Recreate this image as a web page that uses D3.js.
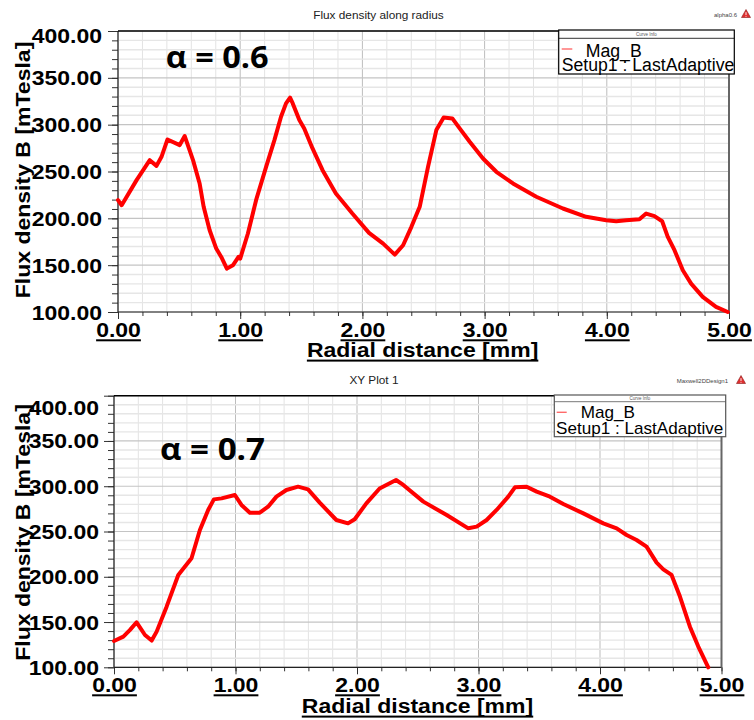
<!DOCTYPE html>
<html><head><meta charset="utf-8">
<script src="https://cdn.jsdelivr.net/npm/d3@7"></script>
<style>body{margin:0;background:#fff}</style>
</head><body>
<svg id="c" width="754" height="720"></svg>
<script>
// ---- data ----
const radius06 = [0, 0.03, 0.152, 0.26, 0.315, 0.356, 0.405, 0.505, 0.546, 0.614, 0.668, 0.701, 0.75, 0.804, 0.845, 0.891, 0.94, 0.986, 1.0, 1.063, 1.13, 1.212, 1.28, 1.334, 1.375, 1.408, 1.43, 1.484, 1.524, 1.592, 1.674, 1.783, 1.918, 2.054, 2.17, 2.265, 2.333, 2.401, 2.469, 2.537, 2.605, 2.665, 2.736, 2.796, 2.878, 2.987, 3.096, 3.232, 3.423, 3.641, 3.831, 3.995, 4.077, 4.158, 4.267, 4.322, 4.39, 4.453, 4.499, 4.554, 4.622, 4.69, 4.785, 4.894, 4.99];
const flux06   = [219.4, 214, 240.8, 262.1, 256, 265.7, 284.2, 278.2, 287.8, 262.1, 237.2, 212.3, 187.3, 167.7, 158.8, 146.3, 149.9, 158.8, 157, 183.8, 219.4, 255, 283.5, 308.4, 322.7, 328.8, 322.7, 304.9, 296, 274.6, 251.4, 226.5, 205.1, 184.5, 173, 161.3, 171.3, 190.9, 212.3, 255, 294.2, 307.7, 306.7, 296, 281.7, 263.9, 249.7, 237.2, 223, 210.5, 201.6, 198, 196.9, 198, 199, 205.1, 202.3, 196.9, 180.2, 166, 144.6, 130.3, 116.1, 105.4, 100];
const radius07 = [0, 0.077, 0.132, 0.186, 0.255, 0.31, 0.351, 0.433, 0.529, 0.638, 0.707, 0.775, 0.822, 0.885, 0.995, 1.049, 1.118, 1.2, 1.268, 1.337, 1.419, 1.515, 1.597, 1.693, 1.83, 1.926, 1.981, 2.077, 2.186, 2.321, 2.381, 2.546, 2.738, 2.916, 2.985, 3.067, 3.149, 3.245, 3.3, 3.396, 3.479, 3.588, 3.698, 3.863, 4.027, 4.137, 4.219, 4.301, 4.383, 4.466, 4.521, 4.589, 4.658, 4.74, 4.809, 4.891];
const flux07   = [129.1, 133.9, 141.3, 149.7, 135.7, 129.5, 139.4, 167, 202, 220.4, 251.7, 273.8, 285.5, 286.6, 290.3, 279.3, 270.8, 270.8, 277.4, 288.5, 295.8, 299.5, 296.6, 281.9, 262.7, 259, 263.5, 281.1, 297.5, 306.9, 301.4, 283, 268.2, 253.5, 255.4, 262.7, 273.8, 288.5, 298.8, 299.5, 294, 288.5, 280.4, 270, 259, 253.5, 246.1, 240.6, 233.3, 215.6, 208.2, 202, 178.1, 144.9, 122.9, 100];
const xTickValues = [0, 1, 2, 3, 4, 5];
const yTickValues = [100, 150, 200, 250, 300, 350, 400];
const plotTitles = ["Flux density along radius", "XY Plot 1"];
const cornerLabels = ["alpha0.6", "Maxwell2DDesign1"];
const alphaLabels = ["α = 0.6", "α = 0.7"];
const legendHeader = "Curve Info";
const legendSeries = "Mag_B";
const legendSetup = "Setup1 : LastAdaptive";
const xAxisTitle = "Radial distance [mm]";
const yAxisTitle = "Flux density B [mTesla]";

// ---- layout ----
const panels = [
  {x0:118, x1:729, y0:31, y1:312, title:{x:378.5,y:19}, corner:{x:737,y:17,tx:746,ty:14},
   alpha:{x:165.7,y:68.3,w:103}, legend:{x:558.7,y:30,w:175.6,h:44,hdr:8.3,lx:[561.7,572.3],ly:49,
   magX:585.7,magY:56.7,magW:56,setX:561.7,setY:71,setW:172.6,fs:18,stroke:'#000'},
   ylabRight:102, ylabTop:35, xlabBase:336.7, xTitle:{x:422.6,y:357}, yTitle:{x:29.5,y:170},
   xs:radius06, ys:flux06, title_i:0},
  {x0:114, x1:721.5, y0:395.7, y1:667.3, title:{x:374,y:384}, corner:{x:728,y:383,tx:741,ty:380},
   alpha:{x:160,y:460,w:105}, legend:{x:554.3,y:395,w:171.4,h:41.7,hdr:6.7,lx:[556.7,566.7],ly:412.3,
   magX:580.7,magY:418.3,magW:54.3,setX:556,setY:434,setW:167.3,fs:17,stroke:'#555'},
   ylabRight:99, ylabTop:407, xlabBase:691.7, xTitle:{x:417.5,y:713}, yTitle:{x:29.5,y:532.5},
   xs:radius07, ys:flux07, title_i:1}
];

const svg = d3.select('#c');
const K = 1.18; // horizontal stretch of the reference text
const BOLD = "'Liberation Sans', Arial, sans-serif";

function stretch(sel, k){
  sel.each(function(){
    const w = this.getComputedTextLength();
    this.setAttribute('textLength', (w*k).toFixed(2));
    this.setAttribute('lengthAdjust', 'spacingAndGlyphs');
  });
}
function fitWidth(sel, w){
  sel.attr('textLength', w).attr('lengthAdjust', 'spacingAndGlyphs');
}

panels.forEach((p, i) => {
  const g = svg.append('g');
  const x = d3.scaleLinear().domain([0, 5]).range([p.x0, p.x1]);
  const y = d3.scaleLinear().domain([100, 400]).range([p.y1, p.y0]);

  // grid
  const grid = g.append('g');
  grid.selectAll('line.vx').data(d3.range(0, 5.0001, 0.2)).join('line')
    .attr('x1', d => x(d)).attr('x2', d => x(d)).attr('y1', p.y0).attr('y2', p.y1)
    .attr('stroke', d => Math.abs(d - Math.round(d)) < 1e-6 ? '#bdbdbd' : '#e3e3e3')
    .attr('stroke-width', 1);
  grid.selectAll('line.hy').data(d3.range(100, 400.1, 10)).join('line')
    .attr('y1', d => y(d)).attr('y2', d => y(d)).attr('x1', p.x0).attr('x2', p.x1)
    .attr('stroke', d => d % 50 === 0 ? '#c4c4c4' : '#e6e6e6')
    .attr('stroke-width', d => d % 50 === 0 ? 1.2 : 1.4);

  // axes: minor ticks
  const yMinor = g.append('g').attr('transform', `translate(${p.x0},0)`)
    .call(d3.axisLeft(y).tickValues(d3.range(100, 400.1, 10)).tickSize(6).tickFormat(''));
  const xMinor = g.append('g').attr('transform', `translate(0,${p.y1})`)
    .call(d3.axisBottom(x).tickValues(d3.range(0, 5.0001, 0.2)).tickSize(4).tickFormat(''));
  [yMinor, xMinor].forEach(a => { a.select('.domain').remove(); a.selectAll('line').attr('stroke', '#333'); });

  // major y axis with labels
  const yAx = g.append('g').attr('transform', `translate(${p.x0},0)`)
    .call(d3.axisLeft(y).tickValues(yTickValues).tickSize(10).tickPadding(p.x0 - p.ylabRight - 10)
      .tickFormat(d3.format('.2f')));
  yAx.select('.domain').remove();
  yAx.selectAll('line').attr('stroke', '#333');
  yAx.selectAll('text')
    .attr('fill', '#000').style('font-family', BOLD).style('font-weight', 'bold').style('font-size', '19.5px')
    .attr('dy', '0.36em')
    .attr('y', d => Math.max(0, p.ylabTop - y(d)));
  stretch(yAx.selectAll('text'), K);

  // major x axis with underlined labels
  const xAx = g.append('g').attr('transform', `translate(0,${p.y1})`)
    .call(d3.axisBottom(x).tickValues(xTickValues).tickSize(7).tickFormat(d3.format('.2f')));
  xAx.select('.domain').remove();
  xAx.selectAll('line').attr('stroke', '#333');
  xAx.selectAll('text')
    .attr('fill', '#000').style('font-family', BOLD).style('font-weight', 'bold').style('font-size', '19.5px')
    .attr('dy', 0).attr('y', p.xlabBase - p.y1);
  stretch(xAx.selectAll('text'), K);
  xAx.selectAll('.tick').each(function(){
    const t = d3.select(this).select('text');
    const L = +t.attr('textLength');
    d3.select(this).append('rect').attr('x', -L/2).attr('width', L)
      .attr('y', p.xlabBase - p.y1 + 2.6).attr('height', 2).attr('fill', '#000');
  });

  // frame
  g.append('line').attr('x1', p.x0).attr('x2', p.x0).attr('y1', p.y0).attr('y2', p.y1).attr('stroke', '#222').attr('stroke-width', 1.2);
  g.append('line').attr('x1', p.x0).attr('x2', p.x1).attr('y1', p.y1).attr('y2', p.y1).attr('stroke', '#222').attr('stroke-width', 1.2);
  g.append('line').attr('x1', p.x0).attr('x2', p.x1).attr('y1', p.y0).attr('y2', p.y0).attr('stroke', '#000').attr('stroke-width', 1.5);
  g.append('line').attr('x1', p.x1).attr('x2', p.x1).attr('y1', p.y0).attr('y2', p.y1).attr('stroke', '#666').attr('stroke-width', 2);

  // curve
  const pts = p.xs.map((v, j) => [v, p.ys[j]]);
  g.append('path').datum(pts)
    .attr('d', d3.line().x(d => x(d[0])).y(d => y(d[1])))
    .attr('fill', 'none').attr('stroke', '#ff0000').attr('stroke-width', 4)
    .attr('stroke-linejoin', 'round').attr('stroke-linecap', 'round');

  // alpha annotation
  const at = g.append('text').attr('x', p.alpha.x).attr('y', p.alpha.y).text(alphaLabels[i])
    .style('font-family', "'Open Sans', sans-serif").style('font-weight', 'bold').style('font-size', '31px').attr('fill', '#000');
  fitWidth(at, p.alpha.w);

  // title and corner label
  const tt = g.append('text').attr('x', p.title.x).attr('y', p.title.y).attr('text-anchor', 'middle')
    .text(plotTitles[i]).style('font-family', "'Liberation Sans', Arial, sans-serif").style('font-size', '10px').attr('fill', '#222');
  stretch(tt, K);
  g.append('text').attr('x', p.corner.x).attr('y', p.corner.y).attr('text-anchor', 'end')
    .text(cornerLabels[i]).style('font-family', "'Liberation Sans', Arial, sans-serif").style('font-size', '6px').attr('fill', '#444');
  const tx = p.corner.tx, ty = p.corner.ty;
  g.append('path').attr('d', `M${tx},${ty-4.5}L${tx+4.5},${ty+3.5}L${tx-4.5},${ty+3.5}Z`)
    .attr('fill', '#e03030').attr('stroke', '#8a1a1a').attr('stroke-width', 0.6);
  g.append('line').attr('x1', tx).attr('x2', tx).attr('y1', ty-1.8).attr('y2', ty+1).attr('stroke', '#fff').attr('stroke-width', 0.9);
  g.append('circle').attr('cx', tx).attr('cy', ty+2.2).attr('r', 0.5).attr('fill', '#fff');

  // axis titles
  const xt = g.append('text').attr('x', p.xTitle.x).attr('y', p.xTitle.y).attr('text-anchor', 'middle')
    .text(xAxisTitle).style('font-family', BOLD).style('font-weight', 'bold').style('font-size', '19.5px').attr('fill', '#000');
  stretch(xt, K);
  const xL = +xt.attr('textLength');
  g.append('rect').attr('x', p.xTitle.x - xL/2).attr('width', xL).attr('y', p.xTitle.y + 2.6).attr('height', 2).attr('fill', '#000');
  const yt = g.append('text').attr('transform', `translate(${p.yTitle.x},${p.yTitle.y}) rotate(-90)`)
    .attr('text-anchor', 'middle').text(yAxisTitle)
    .style('font-family', BOLD).style('font-weight', 'bold').style('font-size', '19.5px').attr('fill', '#000');
  stretch(yt, K);

  // legend
  const L = p.legend;
  const lg = g.append('g');
  lg.append('rect').attr('x', L.x).attr('y', L.y).attr('width', L.w).attr('height', L.h)
    .attr('fill', '#fff').attr('stroke', L.stroke).attr('stroke-width', 1.2);
  lg.append('line').attr('x1', L.x).attr('x2', L.x + L.w).attr('y1', L.y + L.hdr).attr('y2', L.y + L.hdr)
    .attr('stroke', L.stroke).attr('stroke-width', 0.8);
  lg.append('text').attr('x', L.x + L.w/2).attr('y', L.y + L.hdr - 2).attr('text-anchor', 'middle')
    .text(legendHeader).style('font-family', "'Liberation Sans', Arial, sans-serif").style('font-size', '4.5px').attr('fill', '#555');
  lg.append('line').attr('x1', L.lx[0]).attr('x2', L.lx[1]).attr('y1', L.ly).attr('y2', L.ly)
    .attr('stroke', '#ff6a6a').attr('stroke-width', 1.4);
  const m = lg.append('text').attr('x', L.magX).attr('y', L.magY).text(legendSeries)
    .style('font-family', "'Liberation Sans', Arial, sans-serif").style('font-size', L.fs + 'px').attr('fill', '#000');
  fitWidth(m, L.magW);
  const s = lg.append('text').attr('x', L.setX).attr('y', L.setY).text(legendSetup)
    .style('font-family', "'Liberation Sans', Arial, sans-serif").style('font-size', L.fs + 'px').attr('fill', '#000');
  fitWidth(s, L.setW);
});
</script>
</body></html>
